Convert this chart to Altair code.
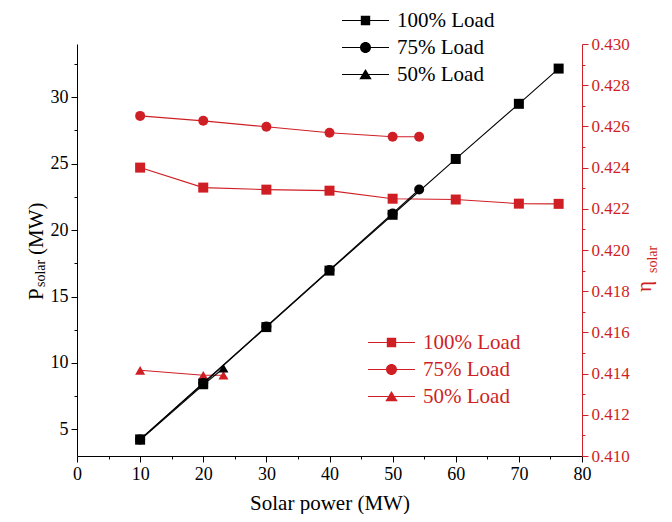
import altair as alt
import pandas as pd

loads = ["100% Load", "75% Load", "50% Load"]

solar_100 = [10, 20, 30, 40, 50, 60, 70, 76.3]
p_100 = [4.25, 8.45, 12.7, 16.95, 21.15, 25.35, 29.5, 32.15]
eta_100 = [0.42400, 0.42303, 0.42293, 0.42288, 0.42249, 0.42245, 0.42225, 0.42224]

solar_75 = [10, 20, 30, 40, 50, 54.2]
p_75 = [4.25, 8.5, 12.75, 17.0, 21.25, 23.05]
eta_75 = [0.42651, 0.42627, 0.42598, 0.42569, 0.42550, 0.42550]

solar_50 = [10, 20, 23.2]
p_50 = [4.2, 8.35, 9.6]
eta_50 = [0.41416, 0.41392, 0.41392]

RED = "#cf1f25"
FONT = "Liberation Serif"

rows = []
for load, xs, ps, es in [
    (loads[0], solar_100, p_100, eta_100),
    (loads[1], solar_75, p_75, eta_75),
    (loads[2], solar_50, p_50, eta_50),
]:
    for x, p, e in zip(xs, ps, es):
        rows.append({"load": load, "solar": x, "p": p, "eta": e})
df = pd.DataFrame(rows)

# legend symbols (unit = 10px): a thin bar as the line, marker in the middle
LINE = "M-2.35,-0.05H2.35V0.05H-2.35Z"
leg_paths = [
    LINE + "M-0.47,-0.47H0.47V0.47H-0.47Z",
    LINE + "M0.55,0A0.55,0.55,0,1,1,-0.55,0A0.55,0.55,0,1,1,0.55,0Z",
    LINE + "M0,-0.55L0.62,0.48H-0.62Z",
]
mark_shapes = ["square", "circle", "triangle-up"]

x_major = "datum.value % 10 == 0"
x_enc = alt.X(
    "solar:Q",
    scale=alt.Scale(domain=[0, 80], nice=False, zero=False),
    axis=alt.Axis(
        values=list(range(0, 81, 5)),
        labelExpr=f"{x_major} ? datum.label : ''",
        tickSize={"condition": {"test": x_major, "value": 6}, "value": 3},
        title="Solar power (MW)",
        titleFont=FONT,
        titleFontSize=21,
        titleFontWeight="normal",
        titlePadding=9,
        labelFont=FONT,
        labelFontSize=18,
        labelPadding=3,
        labelFlush=False,
        grid=False,
        domainColor="black",
        tickColor="black",
        labelColor="black",
        titleColor="black",
    ),
)

p_scale = alt.Scale(domain=[3, 34], nice=False, zero=False)
e_scale = alt.Scale(domain=[0.410, 0.430], nice=False, zero=False)

y_major = "datum.value % 5 == 0"
y_left = alt.Y(
    "p:Q",
    scale=p_scale,
    axis=alt.Axis(
        orient="left",
        values=[5 + 2.5 * i for i in range(12)],
        labelExpr=f"{y_major} ? datum.label : ''",
        tickSize={"condition": {"test": y_major, "value": 6}, "value": 3},
        title=None,
        labelFont=FONT,
        labelFontSize=18,
        labelPadding=3,
        labelFlush=False,
        grid=False,
        domainColor="black",
        tickColor="black",
        labelColor="black",
    ),
)
y_left_plain = alt.Y("p:Q", scale=p_scale, axis=None)

e_major = "round(datum.value * 1000) % 2 == 0"
y_right = alt.Y(
    "eta:Q",
    scale=e_scale,
    axis=alt.Axis(
        orient="right",
        values=[round(0.410 + 0.001 * i, 3) for i in range(21)],
        format=".3f",
        labelExpr=f"{e_major} ? datum.label : ''",
        tickSize={"condition": {"test": e_major, "value": 6}, "value": 3},
        title=None,
        labelFont=FONT,
        labelFontSize=17,
        labelPadding=3,
        labelFlush=False,
        grid=False,
        domainColor=RED,
        tickColor=RED,
        labelColor=RED,
    ),
)
y_right_plain = alt.Y("eta:Q", scale=e_scale, axis=None)


def legend(color, lx, ly):
    return alt.Legend(
        orient="none",
        legendX=lx,
        legendY=ly,
        title=None,
        labelFont=FONT,
        labelFontSize=21,
        labelColor=color,
        symbolSize=400,
        symbolFillColor=color,
        symbolStrokeColor=color,
        symbolStrokeWidth=0,
        symbolOpacity=1,
        labelOffset=21,
        rowPadding=5,
        padding=0,
        labelLimit=300,
    )


base = alt.Chart(df)

red_line = base.mark_line(color=RED, strokeWidth=1.1).encode(
    x=x_enc, y=y_right, detail="load:N"
)
red_pts = base.mark_point(filled=True, color=RED, opacity=1, size=100).encode(
    x=x_enc,
    y=y_right_plain,
    shape=alt.Shape("load:N", scale=alt.Scale(domain=loads, range=mark_shapes), legend=None),
)
red_leg = base.mark_point(filled=True, color=RED, opacity=0, size=1).encode(
    x=x_enc,
    y=y_right_plain,
    shape=alt.Shape(
        "load:N",
        scale=alt.Scale(domain=loads, range=leg_paths),
        legend=legend(RED, 304, 288),
    ),
)

black_line = base.mark_line(color="black", strokeWidth=1.1).encode(
    x=x_enc, y=y_left, detail="load:N"
)
black_pts = base.mark_point(filled=True, color="black", opacity=1, size=100).encode(
    x=x_enc,
    y=y_left_plain,
    shape=alt.Shape("load:N", scale=alt.Scale(domain=loads, range=mark_shapes), legend=None),
)
black_leg = base.mark_point(filled=True, color="black", opacity=0, size=1).encode(
    x=x_enc,
    y=y_left_plain,
    shape=alt.Shape(
        "load:N",
        scale=alt.Scale(domain=loads, range=leg_paths),
        legend=legend("black", 278, -34),
    ),
)

one = alt.Data(values=[{"k": 1}])


def label(text, x, y, size, color):
    return alt.Chart(one).mark_text(
        angle=270, align="left", baseline="alphabetic", font=FONT, fontSize=size, color=color
    ).encode(x=alt.value(x), y=alt.value(y), text=alt.value(text))


titles = [
    label("P", -34, 256, 21, "black"),
    label("solar", -32, 243, 14, "black"),
    label("(MW)", -34, 211, 21, "black"),
    label("η", 574, 248, 21, RED),
    label("solar", 580, 229, 14, RED),
]

chart = (
    alt.layer(red_line, red_pts, red_leg, black_line, black_pts, black_leg, *titles)
    .resolve_scale(y="independent", shape="independent")
    .properties(
        width=505,
        height=412,
        autosize=alt.AutoSizeParams(type="none"),
        padding={"left": 69, "top": 36, "right": 82, "bottom": 58},
        background="white",
    )
    .configure(font=FONT)
    .configure_view(stroke=None)
    .configure_axis(labelFont=FONT, titleFont=FONT, domainWidth=1, tickWidth=1)
    .configure_legend(labelFont=FONT)
)

chart.save("out.html", embed_options={"renderer": "svg", "actions": False})
